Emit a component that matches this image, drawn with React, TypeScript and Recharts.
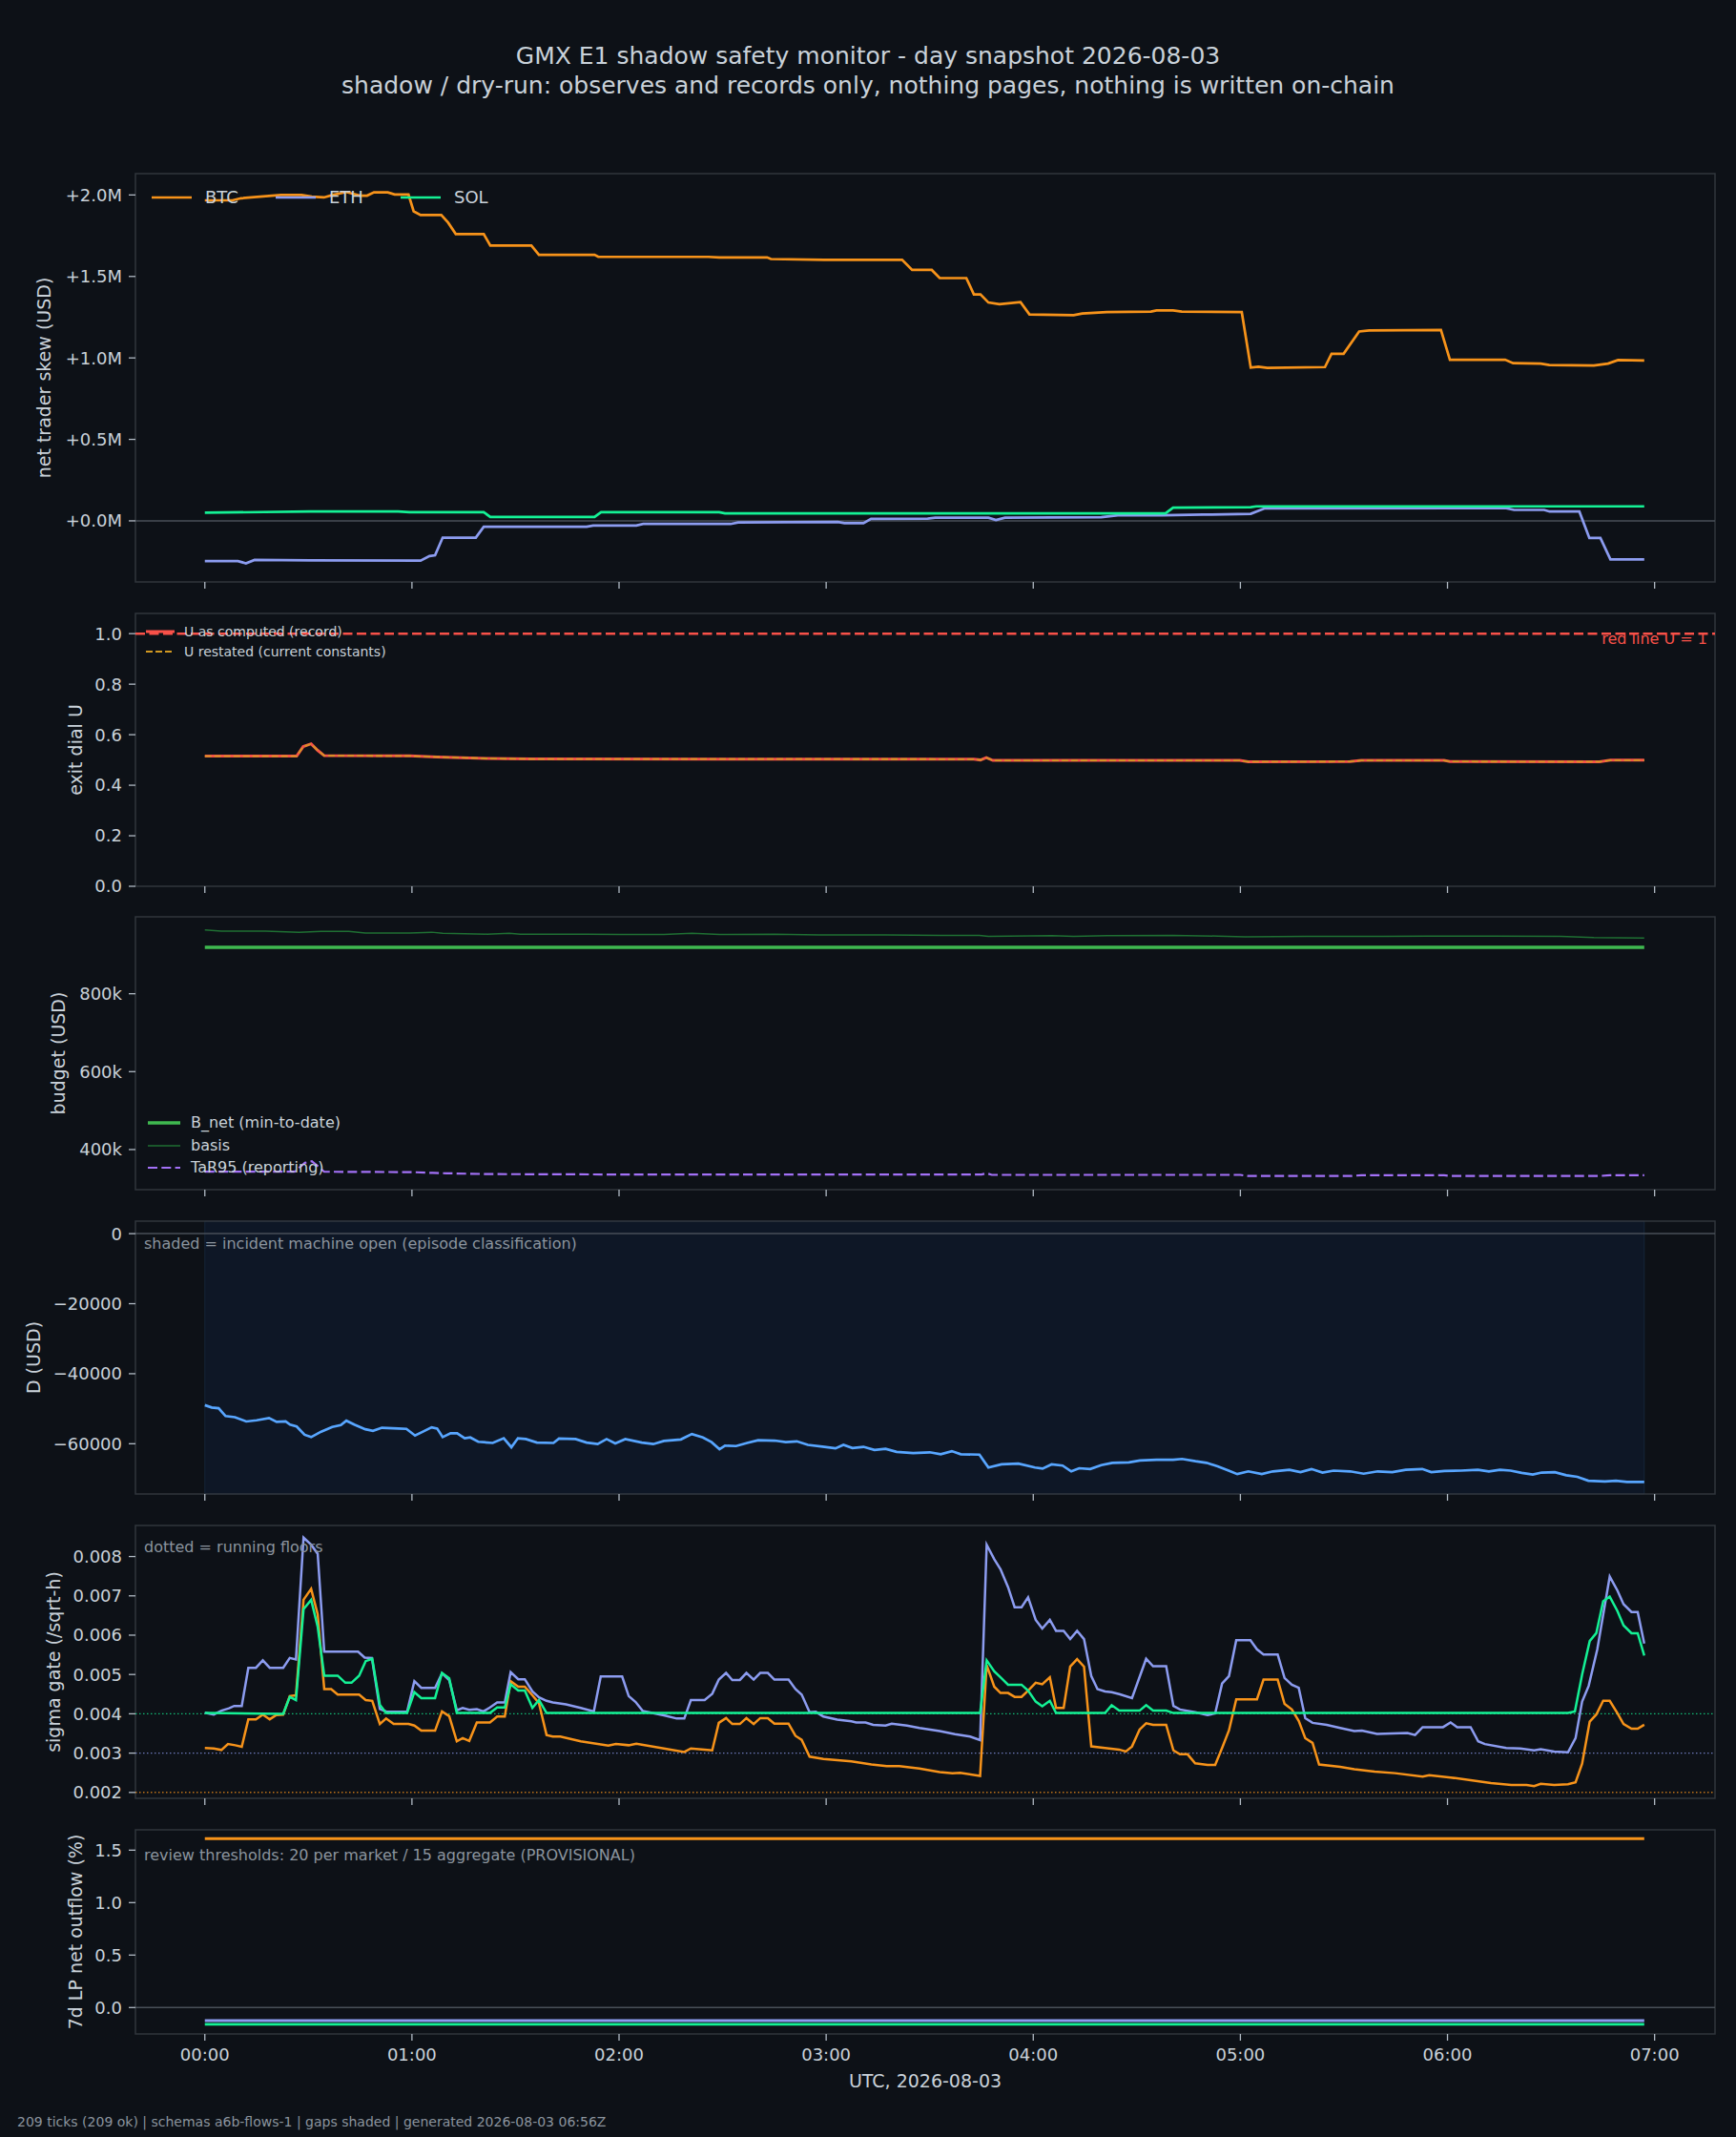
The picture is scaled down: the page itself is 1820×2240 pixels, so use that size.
import React from 'react'
import { LineChart, Line, XAxis, YAxis, ReferenceLine, ReferenceArea } from 'recharts'

const W = 1820
const H = 2240
const PLOT_L = 142
const PLOT_R = 1798
const PAD = 12

const BG = '#0d1117'
const SPINE = '#30363d'
const TEXT = '#c9d1d9'
const MUTED = '#8b949e'
const TICK = '#b1bac4'
const ZERO = '#484f58'
const BTC = '#f7931a'
const ETH = '#8c9cf0'
const SOL = '#14f195'
const RED = '#f85149'
const AMBER = '#d29922'
const GREEN = '#3fb950'
const BASIS = '#1f6f33'
const PURPLE = '#a371f7'
const BLUE = '#58a6ff'
const FONT = '"DejaVu Sans", sans-serif'

// x is minutes after 00:00 UTC
const X_DOMAIN: [number, number] = [-20.1, 437.5]
const hourTicks = [0, 60, 120, 180, 240, 300, 360, 420]
const hourLabels = ['00:00', '01:00', '02:00', '03:00', '04:00', '05:00', '06:00', '07:00']

type Pt = [number, number]

// panel 1: net trader skew, USD millions
const skewBtc: Pt[] = [
  [0, 1.967], [8, 1.967], [10.5, 1.98], [22, 2.0], [28, 2.0], [31, 1.99], [34.5, 1.985], [37, 2.0],
  [41, 2.018], [45, 1.996], [47, 1.996], [49, 2.016], [53, 2.016], [55, 2.003], [59, 2.003], [60.5, 1.9],
  [62.5, 1.877], [68.5, 1.877], [70.5, 1.83], [72.7, 1.76], [80.8, 1.76], [82.7, 1.69], [94.6, 1.69],
  [96.8, 1.633], [112.9, 1.633], [114, 1.62], [145.9, 1.62], [149, 1.617], [162.9, 1.617], [164, 1.607],
  [179.5, 1.602], [202, 1.602], [204.9, 1.54], [210.6, 1.54], [212.9, 1.49], [220.6, 1.49], [222.8, 1.39],
  [224.7, 1.39], [227, 1.34], [230.2, 1.33], [236.3, 1.343], [238.9, 1.267], [251.7, 1.262], [254.2, 1.272],
  [261.3, 1.281], [274.1, 1.284], [275.7, 1.291], [280.5, 1.291], [283, 1.284], [300.4, 1.281], [303, 0.941],
  [305.2, 0.946], [307.8, 0.939], [324.5, 0.944], [326.4, 1.025], [329.9, 1.025], [334.4, 1.162],
  [337.3, 1.169], [358.1, 1.171], [360.7, 0.989], [376.7, 0.989], [379, 0.968], [387, 0.965], [389.5, 0.956],
  [402.4, 0.953], [406.5, 0.965], [409.4, 0.987], [417, 0.984],
]
const skewEth: Pt[] = [
  [0, -0.247], [9.6, -0.247], [11.9, -0.261], [14.4, -0.24], [30.5, -0.242], [62.5, -0.244], [65.1, -0.216],
  [66.7, -0.211], [68.9, -0.103], [78.5, -0.103], [80.8, -0.036], [110.6, -0.036], [112.5, -0.029],
  [125, -0.029], [127, -0.019], [152.3, -0.019], [154.5, -0.0096], [183.4, -0.007], [185.3, -0.014],
  [190.8, -0.014], [193, 0.012], [209.4, 0.014], [211.6, 0.019], [227, 0.019], [229.2, 0.005], [231.8, 0.019],
  [259.7, 0.022], [264.5, 0.034], [277.3, 0.034], [289.2, 0.038], [303, 0.043], [307.1, 0.077],
  [376.7, 0.079], [379.3, 0.067], [388, 0.067], [389.6, 0.057], [398.2, 0.057], [401.1, -0.105],
  [404.3, -0.105], [407.2, -0.237], [417, -0.237],
]
const skewSol: Pt[] = [
  [0, 0.05], [30.5, 0.057], [56, 0.057], [59.3, 0.053], [80.8, 0.053], [82.7, 0.024], [112.9, 0.024],
  [114.8, 0.053], [149, 0.053], [150.7, 0.0455], [278.3, 0.0455], [280.5, 0.081], [303, 0.084],
  [304.6, 0.089], [417, 0.089],
]

// panel 2: exit dial U
const uComputed: Pt[] = [
  [0, 0.515], [26.6, 0.515], [28.5, 0.553], [30.8, 0.564], [32.7, 0.538], [34.6, 0.517], [59.3, 0.516],
  [67.3, 0.512], [81.8, 0.506], [94.6, 0.504], [222.8, 0.503], [224.7, 0.5], [226.4, 0.509], [228.3, 0.498],
  [299.8, 0.498], [302.3, 0.493], [331.8, 0.494], [335, 0.498], [359, 0.498], [360.7, 0.494], [404, 0.493],
  [407.2, 0.499], [417, 0.499],
]
const uRestated: Pt[] = uComputed

// panel 3: budget, USD thousands
const bNet: Pt[] = [[0, 919], [417, 919]]
const basis: Pt[] = [
  [0, 964], [4.8, 961], [17.6, 961], [27.3, 958], [33.7, 960], [41.7, 960], [46.5, 956], [59.3, 956],
  [65.7, 958], [68.9, 955], [81.8, 953], [88.2, 955], [91.4, 953], [110.6, 953], [120.2, 952], [133, 952],
  [141.1, 955], [149.1, 952], [165.1, 953], [178, 951], [197.2, 951], [213.2, 950], [224.4, 950], [227, 947],
  [245.3, 949], [251.7, 947], [261.3, 949], [280.5, 950], [293.4, 948], [301.4, 946], [319, 947],
  [341.5, 947], [354.3, 948], [373.6, 948], [392.8, 947], [402.4, 944], [417, 943],
]
const tar95: Pt[] = [
  [0, 343], [26, 343], [29, 366], [31, 370], [33, 355], [34.6, 343], [60, 342], [66, 340], [70, 339],
  [82, 337], [120, 336], [222, 336], [225, 336], [226.5, 339], [228, 335], [300, 335], [302, 332],
  [332, 332], [335, 334], [359, 334], [361, 332], [404, 332], [407, 334], [417, 334],
]

// panel 4: D, USD
const dUsd: Pt[] = [
  [0, -48970], [2, -49640], [4, -49860], [6, -52090], [8.7, -52420], [12, -53640], [15, -53310],
  [18.6, -52650], [20.8, -53760], [23.4, -53640], [24.7, -54540], [26.6, -55090], [28.9, -57430],
  [30.8, -58100], [33.7, -56540], [36.9, -55210], [39.4, -54650], [41, -53420], [43.3, -54540],
  [46.5, -55870], [48.7, -56320], [51.3, -55430], [56.1, -55650], [58.4, -55760], [60.9, -57650],
  [63.2, -56540], [65.7, -55320], [67.3, -55650], [68.9, -58100], [71.2, -56990], [73.1, -56990],
  [75.3, -58430], [76.9, -58210], [79.2, -59430], [83.4, -59770], [86.6, -58430], [88.8, -60990],
  [90.7, -58430], [93, -58660], [96.2, -59660], [101, -59770], [102.6, -58540], [107.4, -58660],
  [110.6, -59660], [113.8, -60100], [116.4, -58660], [118.9, -59880], [121.8, -58660], [126.6, -59660],
  [129.9, -60100], [133, -59210], [137.9, -58770], [141.1, -57210], [144.3, -58210], [146.8, -59550],
  [149.1, -61550], [150.7, -60550], [153.9, -60660], [157.1, -59770], [160.3, -58990], [165.1, -59100],
  [168.3, -59550], [171.5, -59320], [174.7, -60320], [179.5, -60880], [182.7, -61320], [185, -60320],
  [187.6, -61210], [190.8, -60880], [194, -61770], [197.2, -61430], [200.4, -62330], [205.2, -62660],
  [210, -62440], [213.2, -63000], [216.4, -62110], [219, -63000], [224.4, -63110], [227, -66780],
  [230.8, -65890], [235.7, -65670], [240.5, -66780], [242.7, -67110], [245.3, -65890], [248.5, -66230],
  [251, -67890], [253.3, -67000], [256.5, -67220], [259.7, -66110], [262.9, -65450], [267.7, -65340],
  [270.9, -64780], [275.7, -64560], [280.5, -64560], [283.1, -64340], [287, -65000], [290.2, -65450],
  [293.4, -66450], [296.6, -67670], [299.1, -68670], [302.3, -67890], [306.2, -68670], [309.4, -67890],
  [314.2, -67450], [317.4, -68110], [320.6, -67220], [323.8, -68230], [327, -67670], [331.8, -67890],
  [335.7, -68560], [339.8, -67890], [344, -68110], [347.9, -67450], [352.7, -67220], [355.3, -68110],
  [359.1, -67780], [363.9, -67670], [368.8, -67450], [372, -67890], [375.2, -67450], [378.3, -67670],
  [381.5, -68340], [384.7, -68780], [387.3, -68230], [391.1, -68110], [394.4, -69000], [397.6, -69450],
  [400.8, -70560], [405.6, -70780], [408.8, -70560], [412, -70890], [417, -70890],
]
const incidentSpan: [number, number] = [0, 417]

// panel 5: sigma gate (/sqrt-h)
const sigmaBtc: Pt[] = [
  [0, 0.00313], [2.6, 0.00312], [4.8, 0.00308], [6.7, 0.00323], [8.8, 0.0032], [10.7, 0.00316],
  [12.6, 0.00386], [14.8, 0.00386], [16.8, 0.00398], [18.8, 0.00386], [20.7, 0.00397], [22.7, 0.00398],
  [24.6, 0.00445], [26.4, 0.00447], [28.6, 0.0069], [30.8, 0.00718], [32.7, 0.00653], [34.6, 0.00463],
  [36.6, 0.00463], [38.5, 0.00449], [44.7, 0.00449], [46.6, 0.00435], [48.5, 0.00433], [50.7, 0.00374],
  [52.5, 0.00388], [54.7, 0.00374], [59, 0.00374], [60.7, 0.0037], [62.7, 0.00357], [66.7, 0.00357],
  [68.7, 0.00406], [70.8, 0.00394], [73, 0.0033], [74.7, 0.00338], [76.6, 0.00331], [78.8, 0.00378],
  [82.6, 0.00378], [84.7, 0.00393], [86.9, 0.00393], [88.6, 0.00483], [90.8, 0.00469], [92.7, 0.00469],
  [94.9, 0.00447], [96.8, 0.00427], [99, 0.00346], [100.8, 0.00342], [103, 0.00342], [108.9, 0.0033],
  [116.9, 0.00319], [119.1, 0.00323], [122.8, 0.0032], [125, 0.00324], [133, 0.00312], [138.9, 0.00303],
  [140.8, 0.00312], [144.8, 0.00309], [147, 0.00307], [148.9, 0.00377], [151, 0.00389], [152.8, 0.00374],
  [155, 0.00374], [156.9, 0.00389], [159, 0.00374], [160.9, 0.00389], [163.1, 0.00389], [165, 0.00375],
  [169.1, 0.00375], [171.1, 0.00344], [172.9, 0.00334], [175.2, 0.00291], [179.2, 0.00285],
  [187.3, 0.00279], [193.1, 0.00271], [197.5, 0.00267], [201.2, 0.00267], [207, 0.00261], [212.9, 0.00252],
  [216.6, 0.00249], [218.8, 0.0025], [224.6, 0.00242], [226.5, 0.00524], [228.7, 0.00469], [230.5, 0.00453],
  [232.7, 0.00453], [234.6, 0.00443], [236.6, 0.00443], [238.5, 0.00459], [240.7, 0.00479],
  [242.6, 0.00475], [244.8, 0.00493], [246.6, 0.00415], [248.8, 0.00415], [250.7, 0.0052], [252.7, 0.00539],
  [254.7, 0.0052], [256.8, 0.00317], [260.8, 0.00313], [264.9, 0.00309], [266.8, 0.00304], [268.6, 0.00317],
  [270.8, 0.0036], [272.7, 0.00376], [274.7, 0.00372], [278.5, 0.00372], [280.6, 0.00307], [282.5, 0.00297],
  [284.7, 0.00297], [286.9, 0.00274], [290.5, 0.0027], [292.7, 0.0027], [294.7, 0.00313], [296.7, 0.00358],
  [298.8, 0.00437], [304.8, 0.00437], [306.7, 0.00487], [310.8, 0.00487], [312.8, 0.00425],
  [314.9, 0.00411], [316.9, 0.00382], [318.8, 0.00338], [320.9, 0.00326], [322.8, 0.00271],
  [328.9, 0.00265], [333, 0.00259], [338.9, 0.00253], [344.8, 0.00249], [352.8, 0.0024], [354.7, 0.00244],
  [360.9, 0.00238], [366.7, 0.00231], [372.6, 0.00224], [378.5, 0.00219], [382.9, 0.00219],
  [385.1, 0.00216], [387, 0.00222], [390.9, 0.00219], [394.9, 0.00221], [397.1, 0.00226], [399, 0.00273],
  [401.2, 0.0038], [403.1, 0.00398], [405.1, 0.00433], [407, 0.00433], [409.2, 0.00402], [411, 0.00374],
  [413.3, 0.00362], [415.1, 0.00362], [417, 0.00372],
]
const sigmaEth: Pt[] = [
  [0, 0.00403], [2.6, 0.00398], [4.8, 0.00408], [7, 0.00414], [8.5, 0.0042], [10.7, 0.0042],
  [12.6, 0.00517], [14.8, 0.00517], [16.8, 0.00536], [18.8, 0.00517], [22.7, 0.00517], [24.6, 0.00542],
  [26.4, 0.00538], [28.6, 0.00848], [30.8, 0.0083], [32.7, 0.00807], [34.6, 0.00558], [44.4, 0.00558],
  [46.3, 0.00543], [48.4, 0.00542], [50.7, 0.00412], [52.5, 0.00406], [54.7, 0.00405], [58.6, 0.00405],
  [60.7, 0.00483], [62.7, 0.00466], [66.7, 0.00466], [68.7, 0.00503], [70.8, 0.00486], [73, 0.00409],
  [74.7, 0.00415], [76.6, 0.0041], [78.8, 0.00412], [80.7, 0.00406], [82.6, 0.00416], [84.7, 0.00429],
  [86.9, 0.00429], [88.6, 0.00506], [90.8, 0.00488], [92.7, 0.00488], [94.9, 0.00457], [96.8, 0.00442],
  [99, 0.00433], [100.8, 0.00429], [104.6, 0.00424], [108.9, 0.00415], [112.7, 0.00406], [114.7, 0.00495],
  [120.9, 0.00495], [122.8, 0.00445], [124.8, 0.0043], [126.9, 0.00407], [128.6, 0.00404], [133, 0.00396],
  [136.7, 0.00388], [138.9, 0.00388], [140.8, 0.00435], [144.8, 0.00435], [147, 0.00451], [148.9, 0.00487],
  [151, 0.00504], [152.8, 0.00486], [155, 0.00486], [156.9, 0.00504], [159, 0.00487], [160.9, 0.00504],
  [163.1, 0.00504], [165, 0.00487], [169.1, 0.00487], [171.1, 0.00463], [172.9, 0.00449], [175.2, 0.00404],
  [177, 0.00405], [179.2, 0.00393], [183.2, 0.00385], [187.3, 0.00381], [188.7, 0.00378], [191.4, 0.00378],
  [193.6, 0.00372], [197.2, 0.0037], [199, 0.00375], [203.4, 0.0037], [207, 0.00364], [212.9, 0.00356],
  [217.3, 0.00348], [221.7, 0.00342], [224.6, 0.00333], [226.5, 0.0083], [228.7, 0.00793], [230.5, 0.00768],
  [232.7, 0.00722], [234.6, 0.00671], [236.6, 0.00671], [238.5, 0.00696], [240.7, 0.00639],
  [242.6, 0.00617], [244.8, 0.00639], [246.6, 0.00611], [248.8, 0.00611], [250.7, 0.0059], [252.7, 0.00611],
  [254.7, 0.0059], [256.8, 0.00496], [258.6, 0.00463], [260.8, 0.00457], [262.7, 0.00455], [264.9, 0.0045],
  [268.6, 0.0044], [272.7, 0.0054], [274.7, 0.00521], [278.5, 0.00521], [280.6, 0.0042], [282.5, 0.00411],
  [286.9, 0.00404], [290.5, 0.00397], [292.7, 0.00401], [294.7, 0.00477], [296.7, 0.00496],
  [298.8, 0.00587], [302.9, 0.00587], [304.8, 0.00564], [306.7, 0.00551], [310.8, 0.00551],
  [312.8, 0.00491], [314.9, 0.00474], [316.9, 0.00466], [318.8, 0.00389], [320.9, 0.00377], [325, 0.00372],
  [328.9, 0.00364], [333, 0.00356], [335.2, 0.00357], [339.6, 0.00349], [348.4, 0.00351], [350.6, 0.00346],
  [352.8, 0.00366], [358.7, 0.00366], [360.9, 0.00378], [362.8, 0.00366], [366.7, 0.00366], [368.9, 0.0033],
  [370.8, 0.00323], [377, 0.00313], [381.1, 0.00312], [385.1, 0.00307], [387, 0.0031], [390.9, 0.00304],
  [394.9, 0.00302], [397.1, 0.00338], [399, 0.00431], [400.9, 0.00471], [403.4, 0.00564], [407, 0.00749],
  [409.2, 0.00714], [411, 0.00679], [413.3, 0.00659], [415.1, 0.00659], [417, 0.00579],
]
const sigmaSol: Pt[] = [
  [0, 0.00402], [22.7, 0.004], [24.6, 0.00443], [26.4, 0.00435], [28.6, 0.00666], [30.8, 0.0069],
  [32.7, 0.00621], [34.6, 0.00497], [38.5, 0.00497], [40.7, 0.00479], [42.5, 0.00479], [44.7, 0.00497],
  [46.6, 0.00534], [48.5, 0.0054], [50.7, 0.00423], [52.5, 0.00402], [58.6, 0.00402], [60.7, 0.00455],
  [62.7, 0.0044], [66.7, 0.0044], [68.7, 0.00504], [70.8, 0.0049], [73, 0.00402], [82.6, 0.00402],
  [84.7, 0.00416], [86.9, 0.00416], [88.6, 0.00475], [90.8, 0.00459], [92.7, 0.00459], [94.9, 0.00415],
  [96.8, 0.00435], [99, 0.00402], [224.6, 0.00402], [226.5, 0.00536], [228.7, 0.00508], [230.5, 0.00493],
  [232.7, 0.00474], [236.6, 0.00474], [238.5, 0.00459], [240.7, 0.00431], [242.6, 0.00419],
  [244.8, 0.00433], [246.6, 0.00402], [260.8, 0.00402], [262.7, 0.00422], [264.9, 0.00408],
  [270.8, 0.00408], [272.7, 0.00422], [274.7, 0.00408], [278.5, 0.00408], [280.6, 0.00402],
  [394.9, 0.00402], [396.9, 0.00406], [399, 0.005], [401.2, 0.00585], [403.1, 0.00605], [405.1, 0.00686],
  [407, 0.00698], [409.2, 0.00662], [411, 0.00625], [413.3, 0.00605], [415.1, 0.00605], [417, 0.00548],
]
const floorBtc = 0.002
const floorEth = 0.003
const floorSol = 0.004

// panel 6: 7d LP net outflow (%)
const lpBtc: Pt[] = [[0, 1.61], [417, 1.61]]
const lpEth: Pt[] = [[0, -0.125], [417, -0.125]]
const lpSol: Pt[] = [[0, -0.16], [417, -0.16]]

const rows = (pts: Pt[]) => pts.map(([t, v]) => ({ t, v }))
const fmtHour = (v: number) => hourLabels[hourTicks.indexOf(v)] ?? ''
const blank = () => ''

function series(key: string, pts: Pt[], color: string, width: number, dash?: string, opacity = 1) {
  return (
    <Line
      key={key}
      data={rows(pts)}
      dataKey="v"
      type="linear"
      stroke={color}
      strokeWidth={width}
      strokeDasharray={dash}
      strokeOpacity={opacity}
      dot={false}
      activeDot={false}
      isAnimationActive={false}
    />
  )
}

type PanelProps = {
  top: number
  height: number
  yDomain: [number, number]
  yTicks: number[]
  yFmt: (v: number) => string
  xLabels?: boolean
  children: React.ReactNode
}

function Panel({ top, height, yDomain, yTicks, yFmt, xLabels, children }: PanelProps) {
  const axisH = xLabels ? 44 : 20
  return (
    <div style={{ position: 'absolute', left: 0, top: top - PAD }}>
      <LineChart
        width={W}
        height={height + PAD + axisH}
        margin={{ top: PAD, right: W - PLOT_R, bottom: 0, left: 0 }}
      >
        <XAxis
          type="number"
          dataKey="t"
          domain={X_DOMAIN}
          allowDataOverflow
          ticks={hourTicks}
          interval={0}
          tickFormatter={xLabels ? fmtHour : blank}
          height={axisH}
          axisLine={false}
          tickLine={{ stroke: TICK, strokeWidth: 1.3 }}
          tickSize={7}
          tickMargin={8}
          tick={{ fill: TEXT, fontSize: 18 }}
        />
        <YAxis
          type="number"
          domain={yDomain}
          allowDataOverflow
          ticks={yTicks}
          interval={0}
          tickFormatter={yFmt}
          width={PLOT_L}
          axisLine={false}
          tickLine={{ stroke: TICK, strokeWidth: 1.3 }}
          tickSize={7}
          tickMargin={7}
          tick={{ fill: TEXT, fontSize: 18 }}
        />
        {children}
        <ReferenceArea
          x1={X_DOMAIN[0]}
          x2={X_DOMAIN[1]}
          y1={yDomain[0]}
          y2={yDomain[1]}
          fill="none"
          fillOpacity={0}
          stroke={SPINE}
          strokeWidth={1.5}
          ifOverflow="visible"
        />
      </LineChart>
    </div>
  )
}

type Item = { label: string; color: string; width: number; dash?: string }

function LegendRow({ x, y, len, textX, size, item }: { x: number; y: number; len: number; textX: number; size: number; item: Item }) {
  return (
    <>
      <svg width={len} height={10} style={{ position: 'absolute', left: x, top: y - 5 }}>
        <line x1={0} x2={len} y1={5} y2={5} stroke={item.color} strokeWidth={item.width} strokeDasharray={item.dash} />
      </svg>
      <div style={{ position: 'absolute', left: textX, top: y, transform: 'translateY(-50%)', fontSize: size, lineHeight: 1, color: TEXT, whiteSpace: 'nowrap' }}>
        {item.label}
      </div>
    </>
  )
}

function Note({ x, y, size, color, children, right }: { x: number; y: number; size: number; color: string; children: React.ReactNode; right?: boolean }) {
  return (
    <div
      style={{
        position: 'absolute',
        left: right ? undefined : x,
        right: right ? W - x : undefined,
        top: y,
        transform: 'translateY(-50%)',
        fontSize: size,
        lineHeight: 1,
        color,
        whiteSpace: 'nowrap',
      }}
    >
      {children}
    </div>
  )
}

function YLabel({ x, y, text }: { x: number; y: number; text: string }) {
  return (
    <div
      style={{
        position: 'absolute',
        left: x,
        top: y,
        transform: 'translate(-50%, -50%) rotate(-90deg)',
        fontSize: 19,
        lineHeight: 1,
        color: TEXT,
        whiteSpace: 'nowrap',
      }}
    >
      {text}
    </div>
  )
}

const fmtM = (v: number) => `+${v.toFixed(1)}M`
const fmt1 = (v: number) => v.toFixed(1)
const fmtK = (v: number) => `${v}k`
const fmtD = (v: number) => (v < 0 ? `\u2212${Math.abs(v)}` : `${v}`)
const fmt3 = (v: number) => v.toFixed(3)

export default function App() {
  return (
    <div style={{ position: 'absolute', left: 0, top: 0, width: W, height: H, background: BG, fontFamily: FONT, overflow: 'hidden' }}>
      <div style={{ position: 'absolute', left: 0, width: W, top: 58, transform: 'translateY(-50%)', textAlign: 'center', fontSize: 25, lineHeight: 1, color: TEXT }}>
        GMX E1 shadow safety monitor - day snapshot 2026-08-03
      </div>
      <div style={{ position: 'absolute', left: 0, width: W, top: 89, transform: 'translateY(-50%)', textAlign: 'center', fontSize: 25, lineHeight: 1, color: TEXT }}>
        shadow / dry-run: observes and records only, nothing pages, nothing is written on-chain
      </div>

      {/* 1. net trader skew */}
      <Panel top={182} height={428} yDomain={[-0.375, 2.131]} yTicks={[0, 0.5, 1, 1.5, 2]} yFmt={fmtM}>
        <ReferenceLine y={0} stroke={ZERO} strokeWidth={1.5} />
        {series('btc', skewBtc, BTC, 2.7)}
        {series('eth', skewEth, ETH, 2.7)}
        {series('sol', skewSol, SOL, 2.7)}
      </Panel>
      <YLabel x={46} y={396} text="net trader skew (USD)" />
      <LegendRow x={159} y={207} len={42} textX={215} size={18} item={{ label: 'BTC', color: BTC, width: 2.7 }} />
      <LegendRow x={289} y={207} len={42} textX={345} size={18} item={{ label: 'ETH', color: ETH, width: 2.7 }} />
      <LegendRow x={420} y={207} len={42} textX={476} size={18} item={{ label: 'SOL', color: SOL, width: 2.7 }} />

      {/* 2. exit dial U */}
      <Panel top={643} height={286} yDomain={[0, 1.08]} yTicks={[0, 0.2, 0.4, 0.6, 0.8, 1.0]} yFmt={fmt1}>
        <ReferenceLine y={1} stroke={RED} strokeWidth={2.4} strokeDasharray="10 4.5" />
        {series('ucomp', uComputed, RED, 3)}
        {series('urest', uRestated, AMBER, 1.8, '7 3')}
      </Panel>
      <YLabel x={79} y={786} text="exit dial U" />
      <LegendRow x={153} y={662} len={30} textX={193} size={14} item={{ label: 'U as computed (record)', color: RED, width: 3 }} />
      <LegendRow x={153} y={683} len={30} textX={193} size={14} item={{ label: 'U restated (current constants)', color: AMBER, width: 1.8, dash: '7 3' }} />
      <Note x={1790} y={670} size={16} color={RED} right>red line U = 1</Note>

      {/* 3. budget */}
      <Panel top={961} height={286} yDomain={[297, 997.5]} yTicks={[400, 600, 800]} yFmt={fmtK}>
        {series('bnet', bNet, GREEN, 3.4)}
        {series('basis', basis, BASIS, 1.5)}
        {series('tar95', tar95, PURPLE, 2.2, '10 4.3')}
      </Panel>
      <YLabel x={61} y={1104} text="budget (USD)" />
      <LegendRow x={155} y={1177} len={34} textX={200} size={16} item={{ label: 'B_net (min-to-date)', color: GREEN, width: 3.4 }} />
      <LegendRow x={155} y={1201} len={34} textX={200} size={16} item={{ label: 'basis', color: BASIS, width: 1.5 }} />
      <LegendRow x={155} y={1224} len={34} textX={200} size={16} item={{ label: 'TaR95 (reporting)', color: PURPLE, width: 2.2, dash: '10 4.3' }} />

      {/* 4. D */}
      <Panel top={1280} height={286} yDomain={[-74350, 3574]} yTicks={[-60000, -40000, -20000, 0]} yFmt={fmtD}>
        <ReferenceArea x1={incidentSpan[0]} x2={incidentSpan[1]} fill="#1f6feb" fillOpacity={0.07} stroke={BLUE} strokeOpacity={0.12} strokeWidth={1} />
        <ReferenceLine y={0} stroke={ZERO} strokeWidth={1.5} />
        {series('d', dUsd, BLUE, 2.7)}
      </Panel>
      <YLabel x={35} y={1423} text="D (USD)" />
      <Note x={151} y={1304} size={16} color={MUTED}>shaded = incident machine open (episode classification)</Note>

      {/* 5. sigma gate */}
      <Panel top={1599} height={286} yDomain={[0.00185, 0.00879]} yTicks={[0.002, 0.003, 0.004, 0.005, 0.006, 0.007, 0.008]} yFmt={fmt3}>
        <ReferenceLine y={floorSol} stroke={SOL} strokeWidth={1.4} strokeDasharray="1.5 2.5" strokeOpacity={0.75} />
        <ReferenceLine y={floorEth} stroke={ETH} strokeWidth={1.4} strokeDasharray="1.5 2.5" strokeOpacity={0.75} />
        <ReferenceLine y={floorBtc} stroke={BTC} strokeWidth={1.4} strokeDasharray="1.5 2.5" strokeOpacity={0.75} />
        {series('sbtc', sigmaBtc, BTC, 2.5)}
        {series('seth', sigmaEth, ETH, 2.5)}
        {series('ssol', sigmaSol, SOL, 2.5)}
      </Panel>
      <YLabel x={56} y={1742} text="sigma gate (/sqrt-h)" />
      <Note x={151} y={1622} size={16} color={MUTED}>dotted = running floors</Note>

      {/* 6. LP outflow */}
      <Panel top={1918} height={214} yDomain={[-0.252, 1.694]} yTicks={[0, 0.5, 1.0, 1.5]} yFmt={fmt1} xLabels>
        <ReferenceLine y={0} stroke={ZERO} strokeWidth={1.5} />
        {series('lbtc', lpBtc, BTC, 2.9)}
        {series('leth', lpEth, ETH, 2.9)}
        {series('lsol', lpSol, SOL, 2.9)}
      </Panel>
      <YLabel x={79} y={2025} text="7d LP net outflow (%)" />
      <Note x={151} y={1945} size={16} color={MUTED}>review thresholds: 20 per market / 15 aggregate (PROVISIONAL)</Note>

      <div style={{ position: 'absolute', left: 0, width: PLOT_L + PLOT_R, top: 2181, transform: 'translateY(-50%)', textAlign: 'center', fontSize: 19, lineHeight: 1, color: TEXT }}>
        UTC, 2026-08-03
      </div>
      <Note x={18} y={2224} size={14} color={MUTED}>
        209 ticks (209 ok) | schemas a6b-flows-1 | gaps shaded | generated 2026-08-03 06:56Z
      </Note>
    </div>
  )
}
